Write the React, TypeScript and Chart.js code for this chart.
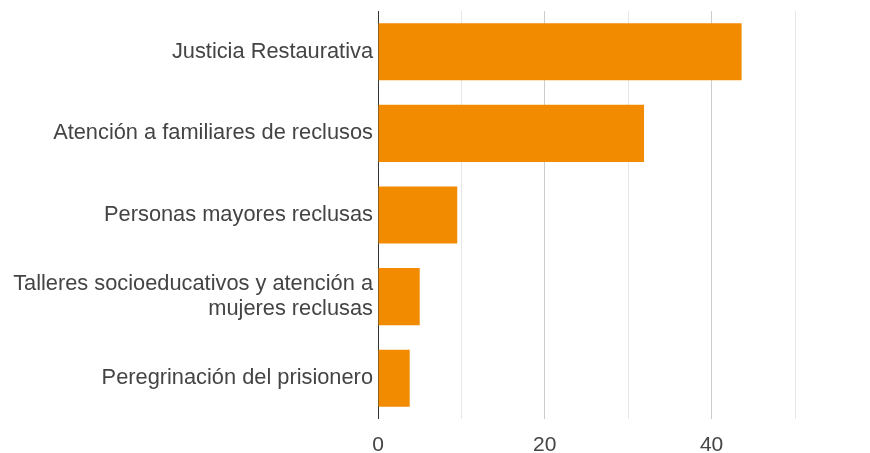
import React, { useEffect, useRef } from "react";
import { Chart, registerables } from "chart.js";

Chart.register(...registerables);

const categories: (string | string[])[] = [
  "Justicia Restaurativa",
  "Atención a familiares de reclusos",
  "Personas mayores reclusas",
  ["Talleres socioeducativos y atención a", "mujeres reclusas"],
  "Peregrinación del prisionero",
];
const values: number[] = [43.6, 31.9, 9.5, 5, 3.8];
const xMin = 0;
const xMax = 50;
const xStep = 10;
const labeledTicks: number[] = [0, 20, 40];

export default function App() {
  const ref = useRef<HTMLCanvasElement | null>(null);

  useEffect(() => {
    document.body.style.margin = "0";
    const canvas = ref.current;
    if (!canvas) return;
    const chart = new Chart(canvas, {
      type: "bar",
      data: {
        labels: categories,
        datasets: [
          {
            data: values,
            backgroundColor: "#f28b00",
            borderWidth: 0,
            barPercentage: 0.7,
            categoryPercentage: 1,
          },
        ],
      },
      options: {
        indexAxis: "y",
        animation: false,
        responsive: false,
        maintainAspectRatio: false,
        devicePixelRatio: 1,
        layout: { padding: { top: 11, right: 75, bottom: 0, left: 0 } },
        plugins: {
          legend: { display: false },
          tooltip: { enabled: false },
        },
        scales: {
          x: {
            min: xMin,
            max: xMax,
            afterFit: (s: any) => {
              s.height = 34;
              s.paddingLeft = 0;
              s.paddingRight = 0;
            },
            border: { display: false },
            grid: {
              drawTicks: false,
              lineWidth: 1,
              color: (c: any) => {
                const v = c.tick ? c.tick.value : 1;
                if (v === 0) return "#333333";
                if (v % 20 === 0) return "#cccccc";
                return "#e6e6e6";
              },
            },
            ticks: {
              stepSize: xStep,
              padding: 14,
              color: "#444444",
              font: { family: "'Liberation Sans', Arial, sans-serif", size: 21 },
              callback: (v: any) => (labeledTicks.includes(Number(v)) ? String(v) : ""),
            },
          },
          y: {
            afterFit: (s: any) => {
              s.width = 378;
              s.paddingTop = 0;
              s.paddingBottom = 0;
            },
            border: { display: false },
            grid: { display: false, drawTicks: false },
            ticks: {
              padding: 5,
              color: "#444444",
              font: {
                family: "'Liberation Sans', Arial, sans-serif",
                size: 21.8,
                lineHeight: 1.15,
              },
            },
          },
        },
      },
    });
    return () => chart.destroy();
  }, []);

  return (
    <div style={{ width: 870, height: 453, position: "relative" }}>
      <canvas ref={ref} width={870} height={453} style={{ display: "block" }} />
    </div>
  );
}
